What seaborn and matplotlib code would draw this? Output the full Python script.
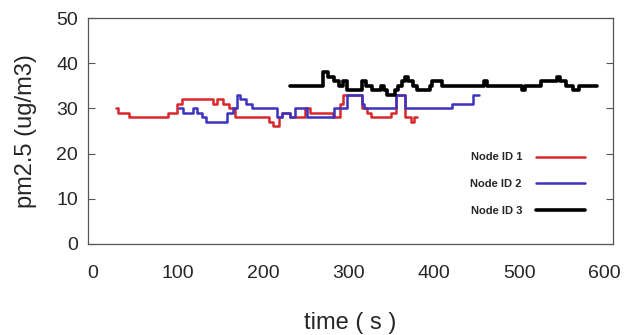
import seaborn as sns
import matplotlib.pyplot as plt

# data (time in s, pm2.5 in ug/m3)
red_t = [27, 29, 42, 88, 99, 104, 141, 146, 152, 160, 166, 207, 211, 218, 222, 231, 249, 255,
         281, 290, 293, 315, 322, 326, 350, 356, 366, 373, 377, 380]
red_v = [30, 29, 28, 29, 31, 32, 31, 32, 31, 30, 28, 27, 26, 28, 29, 28, 30, 29,
         28, 31, 33, 30, 29, 28, 29, 33, 28, 27, 28, 28]

blue_t = [101, 106, 117, 122, 128, 133, 157, 164, 169, 173, 180, 186, 216, 222, 231, 237, 251,
          283, 298, 315, 318, 356, 366, 421, 446, 453]
blue_v = [30, 29, 30, 29, 28, 27, 29, 30, 33, 32, 31, 30, 28, 29, 28, 30, 28,
          30, 33, 31, 30, 33, 30, 31, 33, 33]

black_t = [231, 270, 276, 283, 289, 293, 298, 315, 320, 327, 338, 341, 345, 354, 358, 363, 366,
           370, 376, 380, 395, 398, 410, 459, 462, 503, 507, 526, 544, 548, 555, 563, 570, 591]
black_v = [35, 38, 37, 36, 35, 36, 34, 36, 35, 34, 35, 34, 33, 34, 35, 36, 37,
           36, 35, 34, 35, 36, 35, 36, 35, 34, 35, 36, 37, 36, 35, 34, 35, 35]

labels = ["Node ID 1", "Node ID 2", "Node ID 3"]
x_ticks = [0, 100, 200, 300, 400, 500, 600]
y_ticks = [0, 10, 20, 30, 40, 50]

sns.set_style("white")
plt.rcParams['font.family'] = ['Liberation Sans', 'DejaVu Sans']

fig = plt.figure(figsize=(6.28, 3.35), dpi=100)
ax = fig.add_axes([0.140, 0.272, 0.836, 0.674])

sns.lineplot(x=red_t, y=red_v, ax=ax, color="#d8282c", linewidth=1.8,
             drawstyle="steps-post", label=labels[0])
sns.lineplot(x=blue_t, y=blue_v, ax=ax, color="#3c32c0", linewidth=1.8,
             drawstyle="steps-post", label=labels[1])
sns.lineplot(x=black_t, y=black_v, ax=ax, color="black", linewidth=2.6,
             drawstyle="steps-post", label=labels[2])

ax.set_xlim(-6, 610)
ax.set_ylim(0, 50)
ax.set_xticks(x_ticks)
ax.set_yticks(y_ticks)
ax.tick_params(axis='y', direction='in', length=5, width=0.8, color='#555555',
               left=True, right=True, labelsize=14, pad=7)
ax.tick_params(axis='x', length=0, labelsize=14, pad=15)
for s in ax.spines.values():
    s.set_color('#555555')
    s.set_linewidth(0.9)

ax.set_xlabel("time ( s )", fontsize=17, labelpad=22)
ax.set_ylabel("pm2.5 (ug/m3)", fontsize=17, labelpad=14)

leg = ax.legend(loc='upper right', bbox_to_anchor=(0.932, 0.545),
                bbox_transform=fig.transFigure, frameon=False, markerfirst=False,
                prop={'weight': 'bold', 'size': 8}, handlelength=4.4,
                handletextpad=1.3, labelspacing=1.5, borderpad=0, borderaxespad=0)

fig.savefig("out.png", dpi=100)
